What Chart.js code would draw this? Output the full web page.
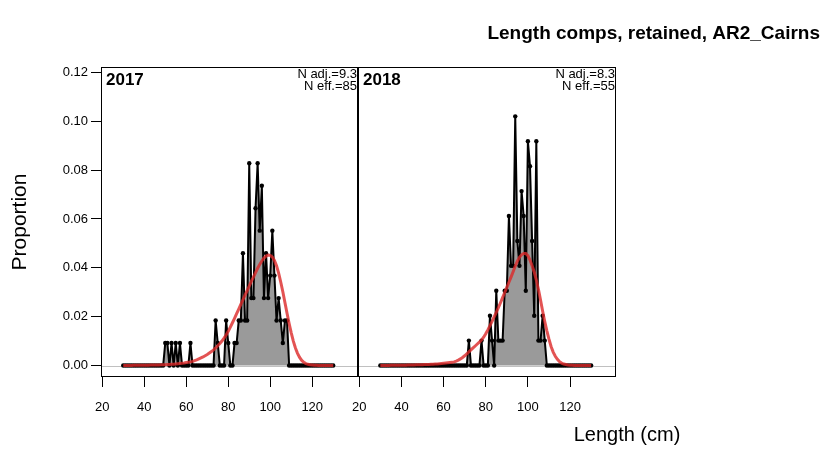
<!DOCTYPE html>
<html>
<head>
<meta charset="utf-8">
<script src="https://cdn.jsdelivr.net/npm/chart.js@4.4.1/dist/chart.umd.min.js"></script>
<style>
    html, body { margin: 0; padding: 0; background: #fff; }
    #wrap { position: relative; width: 828px; height: 456px; }
    #wrap canvas { position: absolute; left: 0; top: 0; }
</style>
</head>
<body>
<div id="wrap">
    <canvas id="panel2017" width="828" height="456"></canvas>
    <canvas id="panel2018" width="828" height="456"></canvas>
</div>
<script>
const lengthBins = [30,31,32,33,34,35,36,37,38,39,40,41,42,43,44,45,46,47,48,49,50,51,52,53,54,55,56,57,58,59,60,61,62,63,64,65,66,67,68,69,70,71,72,73,74,75,76,77,78,79,80,81,82,83,84,85,86,87,88,89,90,91,92,93,94,95,96,97,98,99,100,101,102,103,104,105,106,107,108,109,110,111,112,113,114,115,116,117,118,119,120,121,122,123,124,125,126,127,128,129,130];

const obs2017 = [
    0,0,0,0,0,0,0,0,0,0,
    0,0,0,0,0,0,0,0,0,0,
    0.0092,0.0092,0,0.0092,0,0.0092,0,0.0092,0,0,
    0,0,0.0092,0,0,0,0,0,0,0,
    0,0,0,0,0.0184,0.0092,0,0,0,0.0184,
    0.0092,0,0,0.0092,0.0092,0.0184,0.0184,0.046,0.0184,0.0184,
    0.0828,0.0276,0.0276,0.0644,0.0828,0.0552,0.0736,0.0276,0.046,0.0276,
    0.0368,0.0552,0.0368,0.0184,0.0276,0.0184,0.0092,0.0184,0.0184,0,
    0,0,0,0,0,0,0,0,0,0,
    0,0,0,0,0,0,0,0,0,0,
    0
];
const exp2017 = [
    0,0,0,0,0,0.0001,0.0001,0.0001,0.0001,0.0001,
    0.0001,0.0001,0.0001,0.0002,0.0002,0.0002,0.0002,0.0002,0.0003,0.0003,
    0.0003,0.0004,0.0004,0.0005,0.0005,0.0006,0.0007,0.0008,0.0009,0.0010,
    0.0012,0.0013,0.0015,0.0017,0.0020,0.0023,0.0027,0.0031,0.0035,0.0040,
    0.0045,0.0051,0.0057,0.0064,0.0072,0.0081,0.0090,0.0100,0.0112,0.0125,
    0.0140,0.0157,0.0175,0.0193,0.0212,0.0231,0.0250,0.0269,0.0288,0.0306,
    0.0325,0.0344,0.0362,0.0380,0.0398,0.0414,0.0428,0.0440,0.0448,0.0452,
    0.0451,0.0444,0.0430,0.0408,0.0378,0.0342,0.0302,0.0258,0.0214,0.0172,
    0.0134,0.0100,0.0072,0.0050,0.0033,0.0021,0.0013,0.0008,0.0005,0.0003,
    0.0002,0.0001,0.0001,0,0,0,0,0,0,0,
    0
];
const obs2018 = [
    0,0,0,0,0,0,0,0,0,0,
    0,0,0,0,0,0,0,0,0,0,
    0,0,0,0,0,0,0,0,0,0,
    0,0,0,0,0,0,0,0,0,0,
    0,0,0.0102,0,0,0,0,0,0.0102,0,
    0,0,0.0204,0.0102,0,0.0306,0.0102,0.0102,0.0102,0.0306,
    0.0306,0.0612,0.0408,0.0408,0.102,0.051,0.0408,0.0714,0.0612,0.0306,
    0.0918,0.0816,0.051,0.0204,0.0918,0.0102,0.0102,0.0204,0.0102,0,
    0,0,0,0,0,0,0,0,0,0,
    0,0,0,0,0,0,0,0,0,0,
    0
];
const exp2018 = [
    0,0,0,0,0,0.0001,0.0001,0.0001,0.0001,0.0001,
    0.0001,0.0001,0.0001,0.0002,0.0002,0.0002,0.0002,0.0003,0.0003,0.0003,
    0.0003,0.0004,0.0004,0.0004,0.0005,0.0005,0.0006,0.0006,0.0007,0.0008,
    0.0009,0.0010,0.0011,0.0012,0.0013,0.0015,0.0018,0.0022,0.0027,0.0033,
    0.0040,0.0048,0.0056,0.0064,0.0072,0.0080,0.0088,0.0096,0.0104,0.0116,
    0.0130,0.0146,0.0163,0.0181,0.0199,0.0218,0.0237,0.0257,0.0278,0.0299,
    0.0320,0.0341,0.0362,0.0384,0.0407,0.0427,0.0443,0.0453,0.0459,0.0459,
    0.0450,0.0432,0.0408,0.0383,0.0350,0.0312,0.0268,0.0222,0.0180,0.0142,
    0.0108,0.0078,0.0055,0.0038,0.0025,0.0016,0.0010,0.0006,0.0004,0.0002,
    0.0001,0.0001,0,0,0,0,0,0,0,0,
    0
];

const xTicks = [20, 40, 60, 80, 100, 120];
const yTicks = [0, 0.02, 0.04, 0.06, 0.08, 0.10, 0.12];
const panelYears = ["2017", "2018"];
const nAdj = ["9.3", "8.3"];
const nEff = ["85", "55"];

const FONT = "'Liberation Sans', Arial, Helvetica, sans-serif";

function toPoints(values) {
    return lengthBins.map((x, i) => ({ x: x, y: values[i] }));
}

// box, zero line and panel labels
function panelPlugin(idx) {
    return {
        id: "panelDecor" + idx,
        beforeDatasetsDraw(chart) {
            let a = chart.chartArea;
            let y0 = Math.round(chart.scales.y.getPixelForValue(0)) + 0.5;
            let ctx = chart.ctx;
            ctx.save();
            ctx.strokeStyle = "#c0c0c0";
            ctx.lineWidth = 1;
            ctx.beginPath();
            ctx.moveTo(a.left, y0);
            ctx.lineTo(a.right, y0);
            ctx.stroke();
            ctx.restore();
        },
        afterDraw(chart) {
            let a = chart.chartArea;
            let ctx = chart.ctx;
            ctx.save();
            ctx.strokeStyle = "#000";
            ctx.lineWidth = 1;
            ctx.strokeRect(a.left + 0.5, a.top + 0.5, a.right - a.left - 1, a.bottom - a.top - 1);

            ctx.fillStyle = "#000";
            ctx.textBaseline = "top";
            ctx.textAlign = "left";
            ctx.font = "bold 17px " + FONT;
            ctx.fillText(panelYears[idx], a.left + 5, a.top + 5);

            ctx.textAlign = "right";
            ctx.font = "13px " + FONT;
            ctx.fillText("N adj.=" + nAdj[idx], a.right - 1, a.top + 1);
            ctx.fillText("N eff.=" + nEff[idx], a.right - 1, a.top + 13);

            if (idx === 0) {
                ctx.font = "bold 19px " + FONT;
                ctx.textBaseline = "middle";
                ctx.fillText("Length comps, retained, AR2_Cairns", 820, 34);
                ctx.textAlign = "center";
                ctx.font = "20px " + FONT;
                ctx.fillText("Length (cm)", 627, 435);
            }
            ctx.restore();
        }
    };
}

function makePanel(canvasId, obs, exp, idx) {
    let ctx = document.getElementById(canvasId).getContext("2d");
    let first = idx === 0;

    new Chart(ctx, {
        type: "line",
        data: {
            datasets: [{
                label: "Expected",
                data: toPoints(exp),
                borderColor: "rgba(220,40,40,0.8)",
                borderWidth: 3,
                pointRadius: 0,
                fill: false,
                order: 0
            }, {
                label: "Observed",
                data: toPoints(obs),
                borderColor: "#000",
                borderWidth: 2,
                pointRadius: 2.2,
                pointBorderWidth: 0,
                pointBackgroundColor: "#000",
                fill: "origin",
                backgroundColor: "#9a9a9a",
                order: 1
            }]
        },
        options: {
            responsive: false,
            animation: false,
            layout: {
                padding: first
                    ? { left: 0, top: 67, right: 470, bottom: 39 }
                    : { left: 358, top: 67, right: 212, bottom: 39 }
            },
            plugins: {
                legend: { display: false },
                tooltip: { enabled: false }
            },
            scales: {
                x: {
                    type: "linear",
                    min: 19.4,
                    max: 141.8,
                    afterBuildTicks: s => { s.ticks = xTicks.map(v => ({ value: v })); },
                    afterFit: s => { s.height = 40; },
                    border: { display: false },
                    grid: { display: true, drawOnChartArea: false, drawTicks: true, tickLength: 10, color: "#000" },
                    ticks: { color: "#000", font: { family: FONT, size: 13 }, padding: 13, maxRotation: 0, autoSkip: false }
                },
                y: {
                    display: first,
                    min: -0.0047,
                    max: 0.1222,
                    afterBuildTicks: s => { s.ticks = yTicks.map(v => ({ value: v })); },
                    afterFit: s => { s.width = first ? 101 : 0; },
                    border: { display: false },
                    grid: { display: true, drawOnChartArea: false, drawTicks: true, tickLength: 10, color: "#000" },
                    ticks: {
                        color: "#000",
                        font: { family: FONT, size: 13 },
                        padding: 3,
                        callback: v => v.toFixed(2)
                    },
                    title: {
                        display: true,
                        text: "Proportion",
                        color: "#000",
                        font: { family: FONT, size: 21 },
                        padding: { top: 8, bottom: 0 }
                    }
                }
            }
        },
        plugins: [panelPlugin(idx)]
    });
}

makePanel("panel2017", obs2017, exp2017, 0);
makePanel("panel2018", obs2018, exp2018, 1);
</script>
</body>
</html>
